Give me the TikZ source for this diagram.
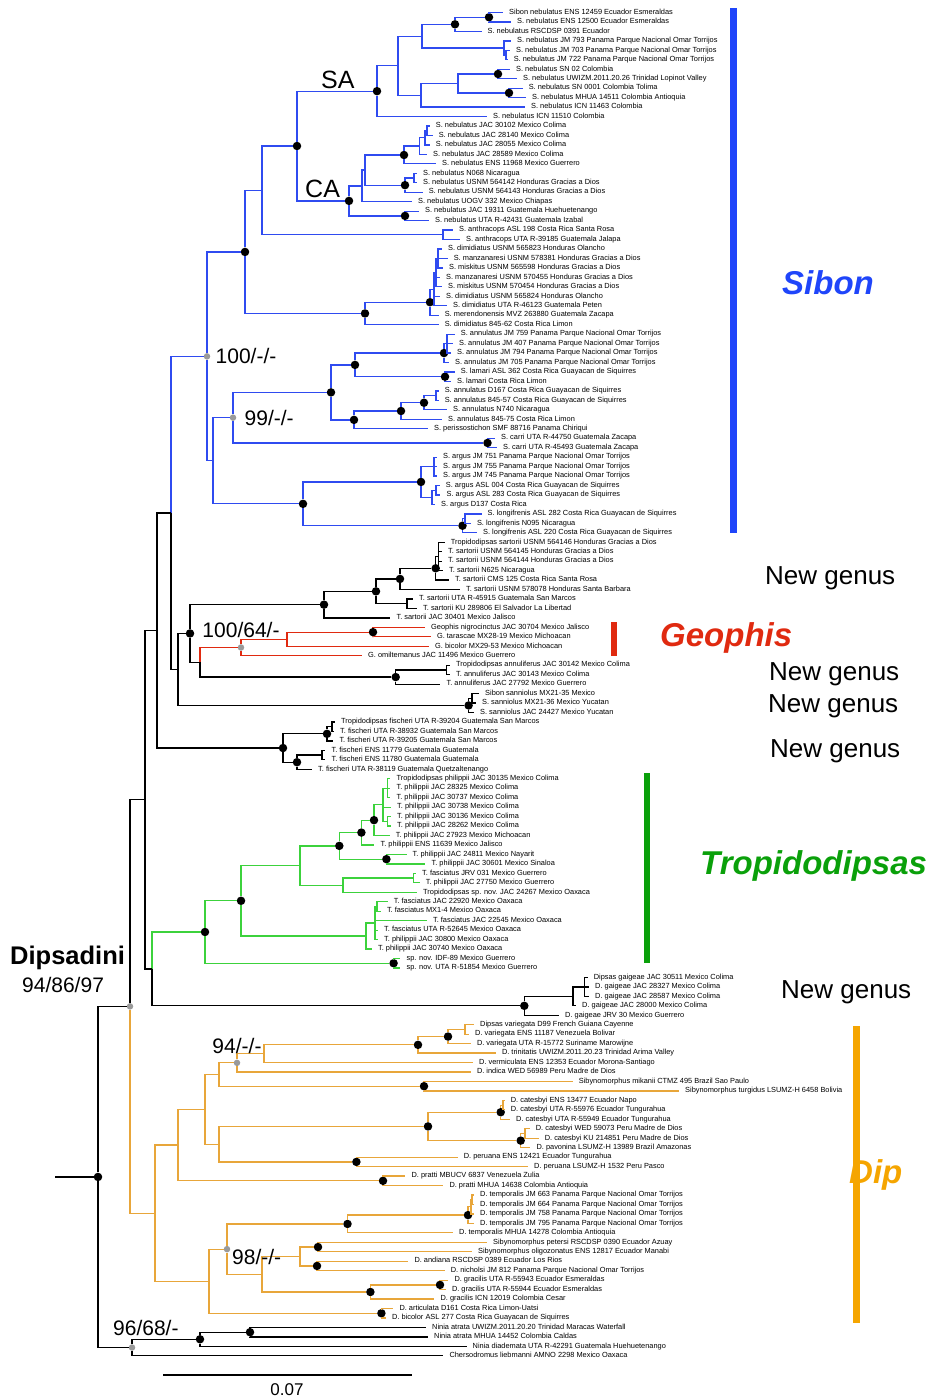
\documentclass[tikz,border=0pt]{standalone}
\usepackage{fontspec}
\setmainfont{Liberation Sans}
\usepackage{tikz}
\usetikzlibrary{positioning}
\definecolor{sibline}{HTML}{2F4BF0}
\definecolor{sibblue}{HTML}{1F45FA}
\definecolor{geored}{HTML}{E02A10}
\definecolor{tropline}{HTML}{3CD23C}
\definecolor{tropgreen}{HTML}{0AA00A}
\definecolor{dipline}{HTML}{E8A63A}
\definecolor{dipgold}{HTML}{F5A500}
\definecolor{suppgray}{HTML}{9A9A9A}

\begin{document}
\begin{tikzpicture}[x=1pt, y=-1pt,
  declare function={rw(\i)=3.04+9.46*\i;},
  branch/.style={line width=1.25pt},
  sib/.style={branch, draw=sibline},
  geo/.style={branch, draw=geored},
  trop/.style={branch, draw=tropline},
  dip/.style={branch, draw=dipline},
  blk/.style={branch, draw=black},
  leaf/.style={anchor=west, inner xsep=6pt, inner ysep=0pt,
               font=\fontsize{7.4}{8}\selectfont, text height=5pt, text depth=1.5pt},
  bs/.style={circle, fill=black, inner sep=0pt, minimum size=8.5pt},
  gs/.style={circle, fill=suppgray, inner sep=0pt, minimum size=6.5pt},
  clade/.style={anchor=west, inner sep=0pt, font=\fontsize{33}{36}\selectfont\bfseries\itshape},
  newgen/.style={anchor=west, inner sep=0pt, font=\fontsize{26}{28}\selectfont},
  supp/.style={anchor=west, inner sep=0pt, font=\fontsize{21}{24}\selectfont},
]
  \useasboundingbox (0,0) rectangle (930,1400);
  % #1 row, #2 tip x, #3 label
  \newcommand{\lf}[3]{\node[leaf] (l#1) at (#2,{rw(#1)}) {#3};}

  % Leaves.
  \lf{1}{503}{Sibon nebulatus ENS 12459 Ecuador Esmeraldas}
  \lf{2}{511}{S. nebulatus ENS 12500 Ecuador Esmeraldas}
  \lf{3}{481.5}{S. nebulatus RSCDSP 0391 Ecuador}
  \lf{4}{511}{S. nebulatus JM 793 Panama Parque Nacional Omar Torrijos}
  \lf{5}{510}{S. nebulatus JM 703 Panama Parque Nacional Omar Torrijos}
  \lf{6}{507.6}{S. nebulatus JM 722 Panama Parque Nacional Omar Torrijos}
  \lf{7}{510}{S. nebulatus SN 02 Colombia}
  \lf{8}{517}{S. nebulatus UWIZM.2011.20.26 Trinidad Lopinot Valley}
  \lf{9}{522.6}{S. nebulatus SN 0001 Colombia Tolima}
  \lf{10}{526}{S. nebulatus MHUA 14511 Colombia Antioquia}
  \lf{11}{525}{S. nebulatus ICN 11463 Colombia}
  \lf{12}{487}{S. nebulatus ICN 11510 Colombia}
  \lf{13}{429.7}{S. nebulatus JAC 30102 Mexico Colima}
  \lf{14}{432.6}{S. nebulatus JAC 28140 Mexico Colima}
  \lf{15}{429.7}{S. nebulatus JAC 28055 Mexico Colima}
  \lf{16}{426.9}{S. nebulatus JAC 28589 Mexico Colima}
  \lf{17}{436}{S. nebulatus ENS 11968 Mexico Guerrero}
  \lf{18}{417}{S. nebulatus N068 Nicaragua}
  \lf{19}{417}{S. nebulatus USNM 564142 Honduras Gracias a Dios}
  \lf{20}{422.6}{S. nebulatus USNM 564143 Honduras Gracias a Dios}
  \lf{21}{412}{S. nebulatus UOGV 332 Mexico Chiapas}
  \lf{22}{419}{S. nebulatus JAC 19311 Guatemala Huehuetenango}
  \lf{23}{429}{S. nebulatus UTA R-42431 Guatemala Izabal}
  \lf{24}{453}{S. anthracops ASL 198 Costa Rica Santa Rosa}
  \lf{25}{460}{S. anthracops UTA R-39185 Guatemala Jalapa}
  \lf{26}{442}{S. dimidiatus USNM 565823 Honduras Olancho}
  \lf{27}{447.6}{S. manzanaresi USNM 578381 Honduras Gracias a Dios}
  \lf{28}{443}{S. miskitus USNM 565598 Honduras Gracias a Dios}
  \lf{29}{440}{S. manzanaresi USNM 570455 Honduras Gracias a Dios}
  \lf{30}{442}{S. miskitus USNM 570454 Honduras Gracias a Dios}
  \lf{31}{440}{S. dimidiatus USNM 565824 Honduras Olancho}
  \lf{32}{447}{S. dimidiatus UTA R-46123 Guatemala Peten}
  \lf{33}{438.6}{S. merendonensis MVZ 263880 Guatemala Zacapa}
  \lf{34}{438.6}{S. dimidiatus 845-62 Costa Rica Limon}
  \lf{35}{454.7}{S. annulatus JM 759 Panama Parque Nacional Omar Torrijos}
  \lf{36}{453}{S. annulatus JM 407 Panama Parque Nacional Omar Torrijos}
  \lf{37}{451}{S. annulatus JM 794 Panama Parque Nacional Omar Torrijos}
  \lf{38}{449}{S. annulatus JM 705 Panama Parque Nacional Omar Torrijos}
  \lf{39}{454.7}{S. lamari ASL 362 Costa Rica Guayacan de Siquirres}
  \lf{40}{451}{S. lamari Costa Rica Limon}
  \lf{41}{438.6}{S. annulatus D167 Costa Rica Guayacan de Siquirres}
  \lf{42}{438.6}{S. annulatus 845-57 Costa Rica Guayacan de Siquirres}
  \lf{43}{447}{S. annulatus N740 Nicaragua}
  \lf{44}{442}{S. annulatus 845-75 Costa Rica Limon}
  \lf{45}{428}{S. perissostichon SMF 88716 Panama Chiriqui}
  \lf{46}{495}{S. carri UTA R-44750 Guatemala Zacapa}
  \lf{47}{497}{S. carri UTA R-45493 Guatemala Zacapa}
  \lf{48}{437}{S. argus JM 751 Panama Parque Nacional Omar Torrijos}
  \lf{49}{437}{S. argus JM 755 Panama Parque Nacional Omar Torrijos}
  \lf{50}{437}{S. argus JM 745 Panama Parque Nacional Omar Torrijos}
  \lf{51}{439.7}{S. argus ASL 004 Costa Rica Guayacan de Siquirres}
  \lf{52}{440.4}{S. argus ASL 283 Costa Rica Guayacan de Siquirres}
  \lf{53}{435}{S. argus D137 Costa Rica}
  \lf{54}{481.5}{S. longifrenis ASL 282 Costa Rica Guayacan de Siquirres}
  \lf{55}{470.8}{S. longifrenis N095 Nicaragua}
  \lf{56}{477}{S. longifrenis ASL 220 Costa Rica Guayacan de Siquirres}
  \lf{57}{444.7}{Tropidodipsas sartorii USNM 564146 Honduras Gracias a Dios}
  \lf{58}{442}{T. sartorii USNM 564145 Honduras Gracias a Dios}
  \lf{59}{442}{T. sartorii USNM 564144 Honduras Gracias a Dios}
  \lf{60}{443}{T. sartorii N625 Nicaragua}
  \lf{61}{449}{T. sartorii CMS 125 Costa Rica Santa Rosa}
  \lf{62}{460}{T. sartorii USNM 578078 Honduras Santa Barbara}
  \lf{63}{413}{T. sartorii UTA R-45915 Guatemala San Marcos}
  \lf{64}{417}{T. sartorii KU 289806 El Salvador La Libertad}
  \lf{65}{390.4}{T. sartorii JAC 30401 Mexico Jalisco}
  \lf{66}{425}{Geophis nigrocinctus JAC 30704 Mexico Jalisco}
  \lf{67}{430.8}{G. tarascae MX28-19 Mexico Michoacan}
  \lf{68}{429}{G. bicolor MX29-53 Mexico Michoacan}
  \lf{69}{362}{G. omiltemanus JAC 11496 Mexico Guerrero}
  \lf{70}{450}{Tropidodipsas annuliferus JAC 30142 Mexico Colima}
  \lf{71}{450}{T. annuliferus JAC 30143 Mexico Colima}
  \lf{72}{440.4}{T. annuliferus JAC 27792 Mexico Guerrero}
  \lf{73}{479}{Sibon sanniolus MX21-35 Mexico}
  \lf{74}{476}{S. sanniolus MX21-36 Mexico Yucatan}
  \lf{75}{474}{S. sanniolus JAC 24427 Mexico Yucatan}
  \lf{76}{335}{Tropidodipsas fischeri UTA R-39204 Guatemala San Marcos}
  \lf{77}{334}{T. fischeri UTA R-38932 Guatemala San Marcos}
  \lf{78}{333.3}{T. fischeri UTA R-39205 Guatemala San Marcos}
  \lf{79}{325.4}{T. fischeri ENS 11779 Guatemala Guatemala}
  \lf{80}{325.4}{T. fischeri ENS 11780 Guatemala Guatemala}
  \lf{81}{312}{T. fischeri UTA R-38119 Guatemala Quetzaltenango}
  \lf{82}{390.4}{Tropidodipsas philippii JAC 30135 Mexico Colima}
  \lf{83}{390.4}{T. philippii JAC 28325 Mexico Colima}
  \lf{84}{390.4}{T. philippii JAC 30737 Mexico Colima}
  \lf{85}{391}{T. philippii JAC 30738 Mexico Colima}
  \lf{86}{391}{T. philippii JAC 30136 Mexico Colima}
  \lf{87}{391}{T. philippii JAC 28262 Mexico Colima}
  \lf{88}{389.7}{T. philippii JAC 27923 Mexico Michoacan}
  \lf{89}{374.4}{T. philippii ENS 11639 Mexico Jalisco}
  \lf{90}{406.5}{T. philippii JAC 24811 Mexico Nayarit}
  \lf{91}{425.4}{T. philippii JAC 30601 Mexico Sinaloa}
  \lf{92}{416}{T. fasciatus JRV 031 Mexico Guerrero}
  \lf{93}{419.7}{T. philippii JAC 27750 Mexico Guerrero}
  \lf{94}{417}{Tropidodipsas sp. nov. JAC 24267 Mexico Oaxaca}
  \lf{95}{387.6}{T. fasciatus JAC 22920 Mexico Oaxaca}
  \lf{96}{380.8}{T. fasciatus MX1-4 Mexico Oaxaca}
  \lf{97}{426.9}{T. fasciatus JAC 22545 Mexico Oaxaca}
  \lf{98}{378}{T. fasciatus UTA R-52645 Mexico Oaxaca}
  \lf{99}{378}{T. philippii JAC 30800 Mexico Oaxaca}
  \lf{100}{371.9}{T. philippii JAC 30740 Mexico Oaxaca}
  \lf{101}{400.4}{sp. nov. IDF-89 Mexico Guerrero}
  \lf{102}{400.4}{sp. nov. UTA R-51854 Mexico Guerrero}
  \lf{103}{587.6}{Dipsas gaigeae JAC 30511 Mexico Colima}
  \lf{104}{589}{D. gaigeae JAC 28327 Mexico Colima}
  \lf{105}{589}{D. gaigeae JAC 28587 Mexico Colima}
  \lf{106}{576}{D. gaigeae JAC 28000 Mexico Colima}
  \lf{107}{559}{D. gaigeae JRV 30 Mexico Guerrero}
  \lf{108}{474}{Dipsas variegata D99 French Guiana Cayenne}
  \lf{109}{469}{D. variegata ENS 11187 Venezuela Bolivar}
  \lf{110}{470.8}{D. variegata UTA R-15772 Suriname Marowijne}
  \lf{111}{495.8}{D. trinitatis UWIZM.2011.20.23 Trinidad Arima Valley}
  \lf{112}{473}{D. vermiculata ENS 12353 Ecuador Morona-Santiago}
  \lf{113}{470.8}{D. indica WED 56989 Peru Madre de Dios}
  \lf{114}{572.6}{Sibynomorphus mikanii CTMZ 495 Brazil Sao Paulo}
  \lf{115}{679}{Sibynomorphus turgidus LSUMZ-H 6458 Bolivia}
  \lf{116}{504.7}{D. catesbyi ENS 13477 Ecuador Napo}
  \lf{117}{504.7}{D. catesbyi UTA R-55976 Ecuador Tungurahua}
  \lf{118}{510}{D. catesbyi UTA R-55949 Ecuador Tungurahua}
  \lf{119}{529.7}{D. catesbyi WED 59073 Peru Madre de Dios}
  \lf{120}{538.6}{D. catesbyi KU 214851 Peru Madre de Dios}
  \lf{121}{530.4}{D. pavonina LSUMZ-H 13989 Brazil Amazonas}
  \lf{122}{457.6}{D. peruana ENS 12421 Ecuador Tungurahua}
  \lf{123}{528}{D. peruana LSUMZ-H 1532 Peru Pasco}
  \lf{124}{405.4}{D. pratti MBUCV 6837 Venezuela Zulia}
  \lf{125}{443.3}{D. pratti MHUA 14638 Colombia Antioquia}
  \lf{126}{474}{D. temporalis JM 663 Panama Parque Nacional Omar Torrijos}
  \lf{127}{474}{D. temporalis JM 664 Panama Parque Nacional Omar Torrijos}
  \lf{128}{474}{D. temporalis JM 758 Panama Parque Nacional Omar Torrijos}
  \lf{129}{474}{D. temporalis JM 795 Panama Parque Nacional Omar Torrijos}
  \lf{130}{453}{D. temporalis MHUA 14278 Colombia Antioquia}
  \lf{131}{486.9}{Sibynomorphus petersi RSCDSP 0390 Ecuador Azuay}
  \lf{132}{471.9}{Sibynomorphus oligozonatus ENS 12817 Ecuador Manabi}
  \lf{133}{408.3}{D. andiana RSCDSP 0389 Ecuador Los Rios}
  \lf{134}{444.7}{D. nicholsi JM 812 Panama Parque Nacional Omar Torrijos}
  \lf{135}{448.3}{D. gracilis UTA R-55943 Ecuador Esmeraldas}
  \lf{136}{445.8}{D. gracilis UTA R-55944 Ecuador Esmeraldas}
  \lf{137}{434.4}{D. gracilis ICN 12019 Colombia Cesar}
  \lf{138}{393.3}{D. articulata D161 Costa Rica Limon-Uatsi}
  \lf{139}{386}{D. bicolor ASL 277 Costa Rica Guayacan de Siquirres}
  \lf{140}{426}{Ninia atrata UWIZM.2011.20.20 Trinidad Maracas Waterfall}
  \lf{141}{428}{Ninia atrata MHUA 14452 Colombia Caldas}
  \lf{142}{466.5}{Ninia diademata UTA R-42291 Guatemala Huehuetenango}
  \lf{143}{443.3}{Chersodromus liebmanni AMNO 2298 Mexico Oaxaca}

  % Sibon: South American nebulatus.
  \node[bs] (a12) at (489,{rw(1.5)}) {};
  \node[bs] (a123) at (455,{rw(2.25)}) {};
  \coordinate (a56) at (506,{rw(5.5)});
  \coordinate (a456) at (504,{rw(4.75)});
  \coordinate (a1to6) at (422,{rw(3.5)});
  \node[bs] (a78) at (498,{rw(7.5)}) {};
  \node[bs] (a910) at (509,{rw(9.5)}) {};
  \coordinate (a7to10) at (458,{rw(8.5)});
  \coordinate (a7to11) at (421,{rw(9.75)});
  \coordinate (a1to11) at (398,{rw(6.625)});
  \node[bs] (sa) at (377,{rw(9.3125)}) {};
  % Central American nebulatus.
  \coordinate (c1314) at (427,{rw(13.5)});
  \coordinate (c13to15) at (425,{rw(14.25)});
  \coordinate (c13to16) at (419.6,{rw(15.125)});
  \node[bs] (c13to17) at (404,{rw(16.0625)}) {};
  \coordinate (c1819) at (414,{rw(18.5)});
  \node[bs] (c18to20) at (405,{rw(19.25)}) {};
  \coordinate (c13to20) at (365,{rw(17.656)});
  \coordinate (c13to21) at (362,{rw(19.328)});
  \node[bs] (c2223) at (405,{rw(22.5)}) {};
  \node[bs] (ca) at (349,{rw(20.914)}) {};
  \node[bs] (sab) at (297,{rw(15.113)}) {};
  \coordinate (d2425) at (443,{rw(24.5)});
  \coordinate (s1to25) at (262,{rw(19.807)});
  % dimidiatus group.
  \coordinate (ea) at (438,{rw(27)});
  \coordinate (eb) at (436,{rw(28.5)});
  \coordinate (ec) at (434,{rw(30.25)});
  \node[bs] (e26to33) at (430,{rw(31.625)}) {};
  \node[bs] (e26to34) at (365,{rw(32.8125)}) {};
  \node[bs] (s1to34) at (245,{rw(26.31)}) {};
  % annulatus, carri, argus, longifrenis.
  \coordinate (f35to37) at (447,{rw(36)});
  \node[bs] (f35to38) at (444,{rw(37)}) {};
  \node[bs] (f3940) at (445,{rw(39.5)}) {};
  \node[bs] (f35to40) at (355,{rw(38.25)}) {};
  \coordinate (f4142) at (436,{rw(41.5)});
  \node[bs] (f41to43) at (424,{rw(42.25)}) {};
  \node[bs] (f41to44) at (401,{rw(43.125)}) {};
  \node[bs] (f41to45) at (354,{rw(44.0625)}) {};
  \node[bs] (f35to45) at (331,{rw(41.156)}) {};
  \node[bs] (g4647) at (487.5,{rw(46.5)}) {};
  \node[gs] (f35to47) at (233,{rw(43.828)}) {};
  \coordinate (h48to50) at (434,{rw(49)});
  \coordinate (h5152) at (436,{rw(51.5)});
  \coordinate (h51to53) at (432,{rw(52.25)});
  \node[bs] (h48to53) at (421,{rw(50.625)}) {};
  \coordinate (h5455) at (465,{rw(54.5)});
  \node[bs] (h54to56) at (462.5,{rw(55.25)}) {};
  \node[bs] (h48to56) at (303,{rw(52.9375)}) {};
  \coordinate (f35to56) at (213,{rw(48.383)});
  \node[gs] (sibon) at (207,{rw(37.35)}) {};

  \foreach \c in {l1,l2} \draw[sib] (a12) |- (\c);
  \foreach \c in {a12,l3} \draw[sib] (a123) |- (\c);
  \foreach \c in {l5,l6} \draw[sib] (a56) |- (\c);
  \foreach \c in {l4,a56} \draw[sib] (a456) |- (\c);
  \foreach \c in {a123,a456} \draw[sib] (a1to6) |- (\c);
  \foreach \c in {l7,l8} \draw[sib] (a78) |- (\c);
  \foreach \c in {l9,l10} \draw[sib] (a910) |- (\c);
  \foreach \c in {a78,a910} \draw[sib] (a7to10) |- (\c);
  \foreach \c in {a7to10,l11} \draw[sib] (a7to11) |- (\c);
  \foreach \c in {a1to6,a7to11} \draw[sib] (a1to11) |- (\c);
  \foreach \c in {a1to11,l12} \draw[sib] (sa) |- (\c);
  \foreach \c in {l13,l14} \draw[sib] (c1314) |- (\c);
  \foreach \c in {c1314,l15} \draw[sib] (c13to15) |- (\c);
  \foreach \c in {c13to15,l16} \draw[sib] (c13to16) |- (\c);
  \foreach \c in {c13to16,l17} \draw[sib] (c13to17) |- (\c);
  \foreach \c in {l18,l19} \draw[sib] (c1819) |- (\c);
  \foreach \c in {c1819,l20} \draw[sib] (c18to20) |- (\c);
  \foreach \c in {c13to17,c18to20} \draw[sib] (c13to20) |- (\c);
  \foreach \c in {c13to20,l21} \draw[sib] (c13to21) |- (\c);
  \foreach \c in {l22,l23} \draw[sib] (c2223) |- (\c);
  \foreach \c in {c13to21,c2223} \draw[sib] (ca) |- (\c);
  \foreach \c in {sa,ca} \draw[sib] (sab) |- (\c);
  \foreach \c in {l24,l25} \draw[sib] (d2425) |- (\c);
  \foreach \c in {sab,d2425} \draw[sib] (s1to25) |- (\c);
  \foreach \c in {l26,l27,l28} \draw[sib] (ea) |- (\c);
  \foreach \c in {ea,l29,l30} \draw[sib] (eb) |- (\c);
  \foreach \c in {eb,l31,l32} \draw[sib] (ec) |- (\c);
  \foreach \c in {ec,l33} \draw[sib] (e26to33) |- (\c);
  \foreach \c in {e26to33,l34} \draw[sib] (e26to34) |- (\c);
  \foreach \c in {s1to25,e26to34} \draw[sib] (s1to34) |- (\c);
  \foreach \c in {l35,l36,l37} \draw[sib] (f35to37) |- (\c);
  \foreach \c in {f35to37,l38} \draw[sib] (f35to38) |- (\c);
  \foreach \c in {l39,l40} \draw[sib] (f3940) |- (\c);
  \foreach \c in {f35to38,f3940} \draw[sib] (f35to40) |- (\c);
  \foreach \c in {l41,l42} \draw[sib] (f4142) |- (\c);
  \foreach \c in {f4142,l43} \draw[sib] (f41to43) |- (\c);
  \foreach \c in {f41to43,l44} \draw[sib] (f41to44) |- (\c);
  \foreach \c in {f41to44,l45} \draw[sib] (f41to45) |- (\c);
  \foreach \c in {f35to40,f41to45} \draw[sib] (f35to45) |- (\c);
  \foreach \c in {l46,l47} \draw[sib] (g4647) |- (\c);
  \foreach \c in {f35to45,g4647} \draw[sib] (f35to47) |- (\c);
  \foreach \c in {l48,l49,l50} \draw[sib] (h48to50) |- (\c);
  \foreach \c in {l51,l52} \draw[sib] (h5152) |- (\c);
  \foreach \c in {h5152,l53} \draw[sib] (h51to53) |- (\c);
  \foreach \c in {h48to50,h51to53} \draw[sib] (h48to53) |- (\c);
  \foreach \c in {l54,l55} \draw[sib] (h5455) |- (\c);
  \foreach \c in {h5455,l56} \draw[sib] (h54to56) |- (\c);
  \foreach \c in {h48to53,h54to56} \draw[sib] (h48to56) |- (\c);
  \foreach \c in {f35to47,h48to56} \draw[sib] (f35to56) |- (\c);
  \foreach \c in {s1to34,f35to56} \draw[sib] (sibon) |- (\c);

  % sartorii, Geophis, annuliferus, sanniolus, fischeri.
  \coordinate (k57to60) at (438.6,{rw(58.5)});
  \node[bs] (k57to61) at (435.7,{rw(59.75)}) {};
  \node[bs] (k57to62) at (400,{rw(60.875)}) {};
  \coordinate (k6364) at (407,{rw(63.5)});
  \node[bs] (k57to64) at (376,{rw(62.1875)}) {};
  \node[bs] (k57to65) at (324,{rw(63.594)}) {};
  \node[bs] (g6667) at (373,{rw(66.5)}) {};
  \coordinate (g66to68) at (287,{rw(67.25)});
  \node[gs] (g66to69) at (241,{rw(68.125)}) {};
  \coordinate (m7071) at (446.4,{rw(70.5)});
  \node[bs] (m70to72) at (395.7,{rw(71.25)}) {};
  \coordinate (m66to72) at (200,{rw(69.6875)});
  \node[bs] (m57to72) at (190,{rw(66.64)}) {};
  \coordinate (p7374) at (472,{rw(73.5)});
  \node[bs] (p73to75) at (468.6,{rw(74.25)}) {};
  \coordinate (m57to75) at (178,{rw(70.445)});
  \coordinate (s1to75) at (171,{rw(53.8975)});
  \coordinate (q7677) at (332,{rw(76.5)});
  \node[bs] (q76to78) at (327,{rw(77.25)}) {};
  \coordinate (q7980) at (322,{rw(79.5)});
  \node[bs] (q79to81) at (297,{rw(80.25)}) {};
  \node[bs] (q76to81) at (283,{rw(78.75)}) {};
  \coordinate (s1to81) at (157,{rw(66.324)});

  \foreach \c in {l57,l58,l59,l60} \draw[blk] (k57to60) |- (\c);
  \foreach \c in {k57to60,l61} \draw[blk] (k57to61) |- (\c);
  \foreach \c in {k57to61,l62} \draw[blk] (k57to62) |- (\c);
  \foreach \c in {l63,l64} \draw[blk] (k6364) |- (\c);
  \foreach \c in {k57to62,k6364} \draw[blk] (k57to64) |- (\c);
  \foreach \c in {k57to64,l65} \draw[blk] (k57to65) |- (\c);
  \foreach \c in {l66,l67} \draw[geo] (g6667) |- (\c);
  \foreach \c in {g6667,l68} \draw[geo] (g66to68) |- (\c);
  \foreach \c in {g66to68,l69} \draw[geo] (g66to69) |- (\c);
  \foreach \c in {l70,l71} \draw[blk] (m7071) |- (\c);
  \foreach \c in {m7071,l72} \draw[blk] (m70to72) |- (\c);
  \draw[geo] (m66to72) |- (g66to69);
  \draw[blk] (m66to72) |- (m70to72);
  \foreach \c in {k57to65,m66to72} \draw[blk] (m57to72) |- (\c);
  \foreach \c in {l73,l74} \draw[blk] (p7374) |- (\c);
  \foreach \c in {p7374,l75} \draw[blk] (p73to75) |- (\c);
  \foreach \c in {m57to72,p73to75} \draw[blk] (m57to75) |- (\c);
  \draw[sib] (s1to75) |- (sibon);
  \draw[blk] (s1to75) |- (m57to75);
  \foreach \c in {l76,l77} \draw[blk] (q7677) |- (\c);
  \foreach \c in {q7677,l78} \draw[blk] (q76to78) |- (\c);
  \foreach \c in {l79,l80} \draw[blk] (q7980) |- (\c);
  \foreach \c in {q7980,l81} \draw[blk] (q79to81) |- (\c);
  \foreach \c in {q76to78,q79to81} \draw[blk] (q76to81) |- (\c);
  \foreach \c in {s1to75,q76to81} \draw[blk] (s1to81) |- (\c);

  % Tropidodipsas and gaigeae.
  \coordinate (t82to84) at (387.5,{rw(83)});
  \coordinate (t8687) at (387.5,{rw(86.5)});
  \coordinate (t82to87) at (383,{rw(84.75)});
  \node[bs] (t82to88) at (374,{rw(86.375)}) {};
  \node[bs] (t82to89) at (361.4,{rw(87.6875)}) {};
  \node[bs] (t9091) at (386.4,{rw(90.5)}) {};
  \node[bs] (t82to91) at (339.3,{rw(89.094)}) {};
  \coordinate (t9293) at (413.6,{rw(92.5)});
  \coordinate (t92to94) at (343,{rw(93.25)});
  \coordinate (t82to94) at (300,{rw(91.172)});
  \coordinate (t9596) at (377,{rw(95.5)});
  \coordinate (t95to99) at (375,{rw(97.25)});
  \coordinate (t95to100) at (366,{rw(98.625)});
  \node[bs] (t82to100) at (241,{rw(94.898)}) {};
  \node[bs] (t101102) at (393.6,{rw(101.5)}) {};
  \node[bs] (tropi) at (205,{rw(98.199)}) {};
  \coordinate (u103to105) at (584.6,{rw(104)});
  \coordinate (u103to106) at (573,{rw(105)});
  \node[bs] (u103to107) at (524.3,{rw(106)}) {};
  \coordinate (s82to107) at (152,{rw(102.1)});
  \coordinate (s1to107) at (145,{rw(84.212)});

  \foreach \c in {l82,l83,l84} \draw[trop] (t82to84) |- (\c);
  \foreach \c in {l86,l87} \draw[trop] (t8687) |- (\c);
  \foreach \c in {t82to84,l85,t8687} \draw[trop] (t82to87) |- (\c);
  \foreach \c in {t82to87,l88} \draw[trop] (t82to88) |- (\c);
  \foreach \c in {t82to88,l89} \draw[trop] (t82to89) |- (\c);
  \foreach \c in {l90,l91} \draw[trop] (t9091) |- (\c);
  \foreach \c in {t82to89,t9091} \draw[trop] (t82to91) |- (\c);
  \foreach \c in {l92,l93} \draw[trop] (t9293) |- (\c);
  \foreach \c in {t9293,l94} \draw[trop] (t92to94) |- (\c);
  \foreach \c in {t82to91,t92to94} \draw[trop] (t82to94) |- (\c);
  \foreach \c in {l95,l96} \draw[trop] (t9596) |- (\c);
  \foreach \c in {t9596,l97,l98,l99} \draw[trop] (t95to99) |- (\c);
  \foreach \c in {t95to99,l100} \draw[trop] (t95to100) |- (\c);
  \foreach \c in {t82to94,t95to100} \draw[trop] (t82to100) |- (\c);
  \foreach \c in {l101,l102} \draw[trop] (t101102) |- (\c);
  \foreach \c in {t82to100,t101102} \draw[trop] (tropi) |- (\c);
  \foreach \c in {l103,l104,l105} \draw[blk] (u103to105) |- (\c);
  \foreach \c in {u103to105,l106} \draw[blk] (u103to106) |- (\c);
  \foreach \c in {u103to106,l107} \draw[blk] (u103to107) |- (\c);
  \draw[trop] (s82to107) |- (tropi);
  \draw[blk] (s82to107) |- (u103to107);
  \foreach \c in {s1to81,s82to107} \draw[blk] (s1to107) |- (\c);

  % Dipsas.
  \coordinate (v108109) at (465,{rw(108.5)});
  \node[bs] (v108to110) at (448,{rw(109.25)}) {};
  \node[bs] (v108to111) at (418,{rw(110.125)}) {};
  \coordinate (v108to112) at (264,{rw(111.0625)});
  \node[gs] (v108to113) at (237,{rw(112.03)}) {};
  \node[bs] (v114115) at (424,{rw(114.5)}) {};
  \coordinate (v108to115) at (219,{rw(113.266)});
  \coordinate (w116117) at (503,{rw(116.5)});
  \node[bs] (w116to118) at (500.7,{rw(117.25)}) {};
  \coordinate (w119120) at (525,{rw(119.5)});
  \node[bs] (w119to121) at (520.7,{rw(120.25)}) {};
  \node[bs] (w116to121) at (428,{rw(118.75)}) {};
  \node[bs] (w122123) at (356.4,{rw(122.5)}) {};
  \coordinate (w116to123) at (219,{rw(120.625)});
  \coordinate (v108to123) at (205,{rw(116.945)});
  \node[bs] (x124125) at (383,{rw(124.5)}) {};
  \coordinate (v108to125) at (178,{rw(120.72)});
  \coordinate (y126127) at (472,{rw(126.5)});
  \coordinate (y126to128) at (471,{rw(127.25)});
  \node[bs] (y126to129) at (468,{rw(128.125)}) {};
  \node[bs] (y126to130) at (347.5,{rw(129.06)}) {};
  \node[bs] (y131132) at (318,{rw(131.5)}) {};
  \node[bs] (y133134) at (317,{rw(133.5)}) {};
  \coordinate (y131to134) at (300,{rw(132.5)});
  \node[bs] (z135136) at (440,{rw(135.5)}) {};
  \node[bs] (z135to137) at (370.4,{rw(136.25)}) {};
  \coordinate (y131to137) at (262,{rw(134.375)});
  \node[gs] (y126to137) at (227,{rw(131.72)}) {};
  \node[bs] (z138139) at (381.4,{rw(138.5)}) {};
  \coordinate (y126to139) at (209,{rw(135.11)});
  \coordinate (dipsas) at (155,{rw(127.915)});
  \node[gs] (dipsadini) at (130,{rw(106.06)}) {};

  \foreach \c in {l108,l109} \draw[dip] (v108109) |- (\c);
  \foreach \c in {v108109,l110} \draw[dip] (v108to110) |- (\c);
  \foreach \c in {v108to110,l111} \draw[dip] (v108to111) |- (\c);
  \foreach \c in {v108to111,l112} \draw[dip] (v108to112) |- (\c);
  \foreach \c in {v108to112,l113} \draw[dip] (v108to113) |- (\c);
  \foreach \c in {l114,l115} \draw[dip] (v114115) |- (\c);
  \foreach \c in {v108to113,v114115} \draw[dip] (v108to115) |- (\c);
  \foreach \c in {l116,l117} \draw[dip] (w116117) |- (\c);
  \foreach \c in {w116117,l118} \draw[dip] (w116to118) |- (\c);
  \foreach \c in {l119,l120} \draw[dip] (w119120) |- (\c);
  \foreach \c in {w119120,l121} \draw[dip] (w119to121) |- (\c);
  \foreach \c in {w116to118,w119to121} \draw[dip] (w116to121) |- (\c);
  \foreach \c in {l122,l123} \draw[dip] (w122123) |- (\c);
  \foreach \c in {w116to121,w122123} \draw[dip] (w116to123) |- (\c);
  \foreach \c in {v108to115,w116to123} \draw[dip] (v108to123) |- (\c);
  \foreach \c in {l124,l125} \draw[dip] (x124125) |- (\c);
  \foreach \c in {v108to123,x124125} \draw[dip] (v108to125) |- (\c);
  \foreach \c in {l126,l127} \draw[dip] (y126127) |- (\c);
  \foreach \c in {y126127,l128} \draw[dip] (y126to128) |- (\c);
  \foreach \c in {y126to128,l129} \draw[dip] (y126to129) |- (\c);
  \foreach \c in {y126to129,l130} \draw[dip] (y126to130) |- (\c);
  \foreach \c in {l131,l132} \draw[dip] (y131132) |- (\c);
  \foreach \c in {l133,l134} \draw[dip] (y133134) |- (\c);
  \foreach \c in {y131132,y133134} \draw[dip] (y131to134) |- (\c);
  \foreach \c in {l135,l136} \draw[dip] (z135136) |- (\c);
  \foreach \c in {z135136,l137} \draw[dip] (z135to137) |- (\c);
  \foreach \c in {y131to134,z135to137} \draw[dip] (y131to137) |- (\c);
  \foreach \c in {y126to130,y131to137} \draw[dip] (y126to137) |- (\c);
  \foreach \c in {l138,l139} \draw[dip] (z138139) |- (\c);
  \foreach \c in {y126to137,z138139} \draw[dip] (y126to139) |- (\c);
  \foreach \c in {v108to125,y126to139} \draw[dip] (dipsas) |- (\c);
  \draw[blk] (dipsadini) |- (s1to107);
  \draw[dip] (dipsadini) |- (dipsas);

  % Outgroups and root.
  \node[bs] (o140141) at (250,{rw(140.5)}) {};
  \node[bs] (o140to142) at (200,{rw(141.25)}) {};
  \node[gs] (o140to143) at (132,{rw(142.125)}) {};
  \node[bs] (root) at (98,{rw(124.09)}) {};
  \coordinate (stem) at (55,{rw(124.09)});
  \foreach \c in {l140,l141} \draw[blk] (o140141) |- (\c);
  \foreach \c in {o140141,l142} \draw[blk] (o140to142) |- (\c);
  \foreach \c in {o140to142,l143} \draw[blk] (o140to143) |- (\c);
  \foreach \c in {dipsadini,o140to143} \draw[blk] (root) |- (\c);
  \draw[blk] (stem) -- (root);

  % Clade bars and names.
  \fill[sibblue] (730,8) rectangle (736.5,533);
  \fill[geored] (610.7,622) rectangle (617,656);
  \fill[tropgreen] (643.6,773) rectangle (650,963);
  \fill[dipgold] (853,1026) rectangle (859.5,1323);
  \node[clade, text=sibblue] (sibname) at (782,283) {Sibon};
  \node[clade, text=geored] (geoname) at (660,638) {Geophis};
  \node[clade, text=tropgreen] (tropname) at (700,866) {Tropidodipsas};
  \node[clade, text=dipgold] (dipname) at (849,1175) {Dip};
  \node[newgen] (ng1) at (765,578) {New genus};
  \node[newgen] (ng2) at (769,674) {New genus};
  \node[newgen] (ng3) at (768,706) {New genus};
  \node[newgen] (ng4) at (770,751) {New genus};
  \node[newgen] (ng5) at (781,992) {New genus};

  % Support values and group labels.
  \node[supp, right=5pt of sibon] (sibsupp) {100/-/-};
  \node[supp, right=8pt of f35to47] (annsupp) {99/-/-};
  \node[supp, anchor=south, above=6pt of g66to69] (geosupp) {100/64/-};
  \node[supp, anchor=south, above=6pt of v108to113] (dipsupp) {94/-/-};
  \node[supp] (tempsupp) at (232,1257) {98/-/-};
  \node[supp] (outsupp) at (113,1328) {96/68/-};
  \node[supp, font=\fontsize{25}{28}\selectfont] (saname) at (321,80) {SA};
  \node[supp, font=\fontsize{25}{28}\selectfont] (caname) at (305,189) {CA};
  \node[supp, font=\fontsize{25.5}{28}\selectfont\bfseries] (dipsadininame) at (10,958) {Dipsadini};
  \node[supp] (dipsadinisupp) at (22,985) {94/86/97};

  % Scale bar.
  \coordinate (sbl) at (163,1375);
  \coordinate (sbr) at (412,1375);
  \draw[blk] (sbl) -- (sbr);
  \node[supp, anchor=center, font=\fontsize{17}{20}\selectfont] (sblabel) at (287,1390) {0.07};
\end{tikzpicture}
\end{document}
